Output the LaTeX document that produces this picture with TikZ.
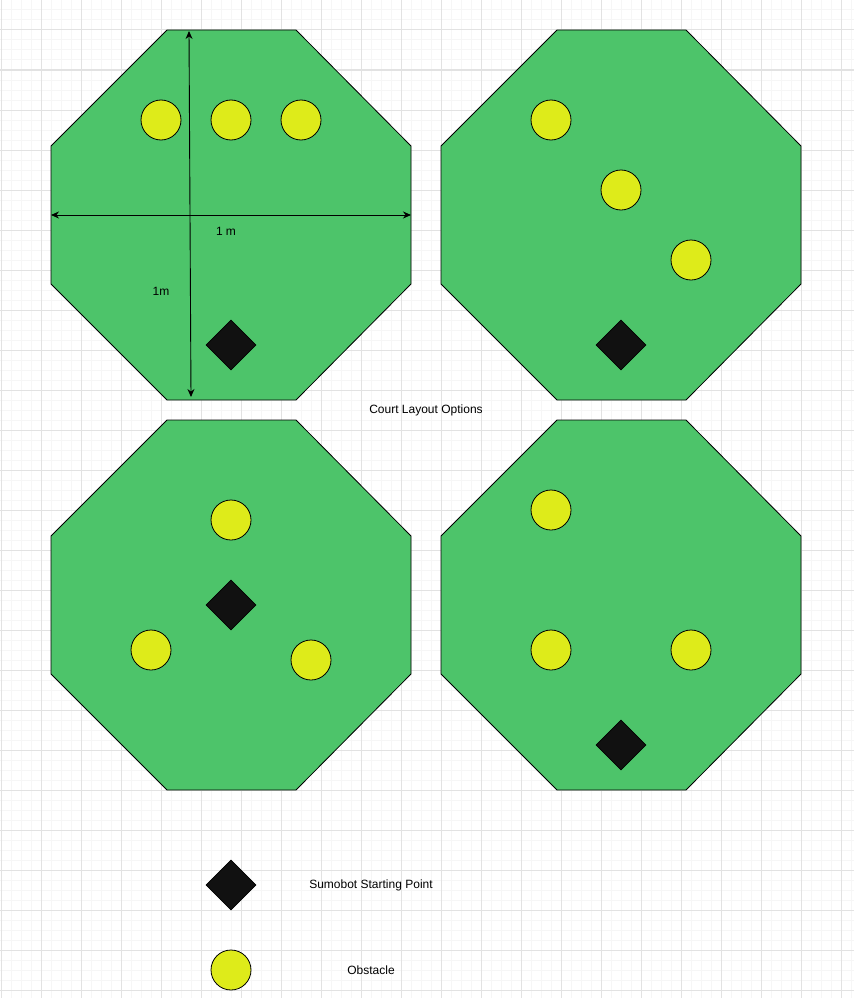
\documentclass[tikz,border=0pt]{standalone}
\usepackage{fontspec}
\setmainfont{Liberation Sans}
\usetikzlibrary{shapes.geometric, arrows.meta, positioning}
\definecolor{courtgreen}{RGB}{77,196,106}
\definecolor{obsyellow}{RGB}{222,235,26}
\definecolor{botblack}{RGB}{17,17,17}
\definecolor{gridminor}{RGB}{246,246,246}
\definecolor{gridmajor}{RGB}{226,226,226}
\tikzset{
  minorline/.style={draw=gridminor, line width=1pt},
  majorline/.style={draw=gridmajor, line width=1pt},
  court/.style={draw=black, fill=courtgreen, line width=0.8pt, line join=miter},
  obstacle/.style={circle, draw=black, fill=obsyellow, minimum size=40pt,
    inner sep=0pt, line width=0.8pt},
  startpt/.style={diamond, draw=black, fill=botblack, minimum width=50pt,
    minimum height=50pt, inner sep=0pt, line width=0.6pt},
  label/.style={font=\fontsize{12}{14}\selectfont, text=black, inner sep=0pt},
  dimarrow/.style={{Stealth[length=8pt,width=7pt]}-{Stealth[length=8pt,width=7pt]}, line width=0.9pt, color=black}
}

\begin{document}
\begin{tikzpicture}[x=1pt, y=-1pt]
  \useasboundingbox (0,0) rectangle (854,998);
  \fill[white] (0,0) rectangle (854,998);

  % background grid
  \foreach \x in {1,11,...,851} \draw[minorline] (\x,0) -- (\x,998);
  \foreach \y in {0,10,...,990} \draw[minorline] (0,\y) -- (854,\y);
  \foreach \x in {1,41,...,841} \draw[majorline] (\x,0) -- (\x,998);
  \foreach \y in {30,70,...,990} \draw[majorline] (0,\y) -- (854,\y);

  % the four courts
  \foreach \ox/\oy in {51/30, 441/30, 51/420, 441/420}
    \draw[court] (\ox+116,\oy) -- (\ox+245,\oy) -- (\ox+360,\oy+116)
      -- (\ox+360,\oy+254) -- (\ox+245,\oy+370) -- (\ox+116,\oy+370)
      -- (\ox,\oy+254) -- (\ox,\oy+116) -- cycle;

  % layout 1
  \node[obstacle] (obsA1) at (161,120) {};
  \node[obstacle] (obsA2) at (231,120) {};
  \node[obstacle] (obsA3) at (301,120) {};
  \node[startpt] (startA) at (231,345) {};
  \coordinate (vtop) at (189,31);
  \coordinate (vbot) at (191,397);
  \coordinate (hleft) at (51,215);
  \coordinate (hright) at (411,215);
  \draw[dimarrow] (hleft) -- (hright);
  \draw[dimarrow] (vtop) -- (vbot);
  \node[label] (widthlbl) at (226,231) {1 m};
  \node[label] (heightlbl) at (161,291) {1m};

  % layout 2
  \node[obstacle] (obsB1) at (551,120) {};
  \node[obstacle] (obsB2) at (621,190) {};
  \node[obstacle] (obsB3) at (691,260) {};
  \node[startpt] (startB) at (621,345) {};

  \node[label] (title) at (426,410) {Court Layout Options};

  % layout 3
  \node[obstacle] (obsC1) at (231,520) {};
  \node[obstacle] (obsC2) at (151,650) {};
  \node[obstacle] (obsC3) at (311,660) {};
  \node[startpt] (startC) at (231,605) {};

  % layout 4
  \node[obstacle] (obsD1) at (551,510) {};
  \node[obstacle] (obsD2) at (551,650) {};
  \node[obstacle] (obsD3) at (691,650) {};
  \node[startpt] (startD) at (621,745) {};

  % legend
  \node[startpt] (keystart) at (231,885) {};
  \node[label] (keystartlbl) at (371,885) {Sumobot Starting Point};
  \node[obstacle] (keyobs) at (231,970) {};
  \node[label] (keyobslbl) at (371,970) {Obstacle};
\end{tikzpicture}
\end{document}
